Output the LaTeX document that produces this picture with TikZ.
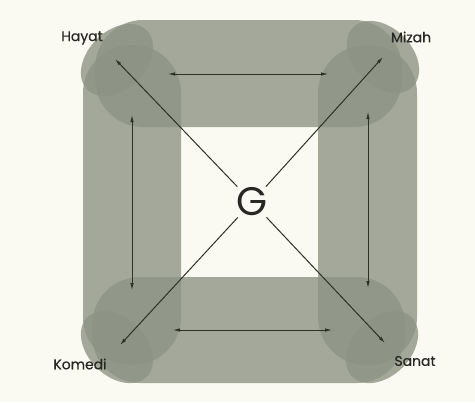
\documentclass[tikz,border=0pt]{standalone}
\usepackage{fontspec}
\setmainfont{Poppins}
\newfontfamily\lblfont{Poppins}[FakeBold=0.6]
\usepackage{tikz}
\usetikzlibrary{arrows.meta, positioning}
\usepackage{xcolor}
\definecolor{paper}{RGB}{251,250,242}
\definecolor{bandgray}{RGB}{142,148,133}
\definecolor{inkline}{RGB}{45,50,36}
\definecolor{inktext}{RGB}{40,40,34}

\begin{document}
\begin{tikzpicture}[
        x=1bp, y=-1bp,
        band/.style={fill=bandgray, fill opacity=0.8},
        lbl/.style={font=\lblfont\fontsize{14}{14}\selectfont, text=inktext, inner sep=0pt},
        arr/.style={-{Latex[length=7bp, width=3.5bp]}, line width=1bp, inkline},
        dbl/.style={{Latex[length=7bp, width=3.5bp]}-{Latex[length=7bp, width=3.5bp]}, line width=0.8bp, inkline}
    ]
        % Paper
        \fill[paper] (0,0) rectangle (475,402);
        \useasboundingbox (0,0) rectangle (475,402);

        % Bands
        \fill[band, rounded corners=48bp] (95,20) rectangle (402,127);
        \fill[band, rounded corners=48bp] (83,45) rectangle (181,365);
        \fill[band, rounded corners=48bp] (318,45) rectangle (417,365);
        \fill[band, rounded corners=48bp] (92,277) rectangle (405,383);

        % Corner blobs
        \fill[band] (117,60) ellipse [x radius=42, y radius=29, rotate=45];
        \fill[band] (383,57) ellipse [x radius=42, y radius=29, rotate=-45];
        \fill[band] (117,347) ellipse [x radius=42, y radius=29, rotate=-45];
        \fill[band] (382,347) ellipse [x radius=42, y radius=29, rotate=45];

        % Labels
        \node[lbl] (hayat) at (82,38) {Hayat};
        \node[lbl] (mizah) at (411,37) {Mizah};
        \node[lbl] (komedi) at (80,364) {Komedi};
        \node[lbl] (sanat) at (415,361) {Sanat};

        % Centre
        \node[font=\fontsize{40}{40}\selectfont, text=inktext, inner sep=1bp] (g) at (252,202) {G};

        % Arrow ends
        \coordinate (hayatTip) at (115,59);
        \coordinate (mizahTip) at (383,57);
        \coordinate (komediTip) at (120,345);
        \coordinate (sanatTip) at (385,343);
        \coordinate (topL) at (168,74);
        \coordinate (topR) at (328,74);
        \coordinate (leftT) at (132,115);
        \coordinate (leftB) at (132,290);
        \coordinate (rightT) at (368,112);
        \coordinate (rightB) at (368,288);
        \coordinate (botL) at (173,330);
        \coordinate (botR) at (332,330);

        % Diagonals
        \draw[arr] (g) -- (hayatTip);
        \draw[arr] (g) -- (mizahTip);
        \draw[arr] (g) -- (komediTip);
        \draw[arr] (g) -- (sanatTip);

        % Sides
        \draw[dbl] (topL) -- (topR);
        \draw[dbl] (leftT) -- (leftB);
        \draw[dbl] (rightT) -- (rightB);
        \draw[dbl] (botL) -- (botR);
    \end{tikzpicture}
\end{document}
